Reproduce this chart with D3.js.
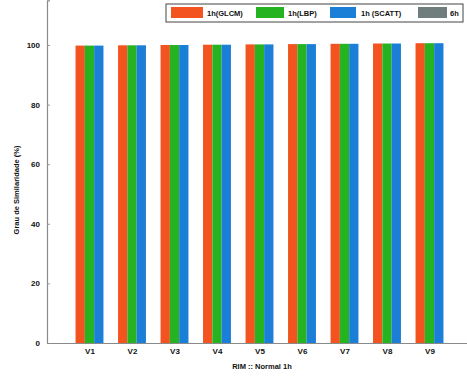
<!DOCTYPE html>
<html>
<head>
<meta charset="utf-8">
<script src="https://cdn.jsdelivr.net/npm/d3@7"></script>
<style>
  html, body { margin: 0; padding: 0; background: #fff; }
  svg { display: block; font-family: "Liberation Sans", Arial, sans-serif; }
</style>
</head>
<body>
<svg id="chart" width="467" height="379"></svg>
<script>
// Categories along the x axis
const categories = ["V1", "V2", "V3", "V4", "V5", "V6", "V7", "V8", "V9"];

// Similarity (%) per feature set
const glcm  = [99.8, 99.9, 100.0, 100.1, 100.2, 100.3, 100.4, 100.5, 100.6];
const lbp   = [99.8, 99.9, 100.0, 100.1, 100.2, 100.3, 100.4, 100.5, 100.6];
const scatt = [99.8, 99.9, 100.0, 100.1, 100.2, 100.3, 100.4, 100.5, 100.6];

const seriesNames = ["1h(GLCM)", "1h(LBP)", "1h (SCATT)", "6h"];
const seriesColors = ["#f2531f", "#25b321", "#1b7fd8", "#6f7d7d"];
const barSeries = [glcm, lbp, scatt];

const yTicks = [0, 20, 40, 60, 80, 100];

const svg = d3.select("#chart");
const left = 47, bottom = 343;

const x = d3.scaleLinear().domain([0, categories.length + 1]).range([left, 472]);
const y = d3.scaleLinear().domain([0, 115]).range([bottom, 0.3]);

const barW = 9.3;
const offsets = d3.scaleLinear().domain([0, barSeries.length - 1]).range([-barW, barW]);

// Bars
barSeries.forEach((vals, s) => {
  svg.append("g")
    .selectAll("rect")
    .data(vals)
    .join("rect")
    .attr("x", (d, i) => x(i + 1) + offsets(s) - barW / 2)
    .attr("y", d => y(d))
    .attr("width", barW)
    .attr("height", d => y(0) - y(d))
    .attr("fill", seriesColors[s]);
});

// Y axis
const yAxis = d3.axisLeft(y).tickValues(yTicks).tickSize(-3).tickPadding(7);
const gy = svg.append("g").attr("transform", `translate(${left},0)`).call(yAxis);
gy.select(".domain").attr("stroke", "#8a8a8a").attr("stroke-width", 1.2);
gy.selectAll(".tick line").attr("stroke", "#999");
gy.selectAll(".tick text").attr("font-size", 8).attr("font-weight", "bold").attr("fill", "#111");

// X axis
const xAxis = d3.axisBottom(x)
  .tickValues(d3.range(1, categories.length + 1))
  .tickFormat(d => categories[d - 1])
  .tickSize(0).tickPadding(5);
const gx = svg.append("g").attr("transform", `translate(0,${bottom})`).call(xAxis);
gx.select(".domain").attr("stroke", "#8a8a8a").attr("stroke-width", 1.2);
gx.selectAll(".tick text").attr("font-size", 8).attr("font-weight", "bold").attr("fill", "#111");

// Axis titles
svg.append("text")
  .attr("x", 262).attr("y", 369)
  .attr("text-anchor", "middle")
  .attr("font-size", 7.5).attr("font-weight", "bold").attr("fill", "#111")
  .text("RIM :: Normal 1h");

svg.append("text")
  .attr("transform", "translate(19,190) rotate(-90)")
  .attr("text-anchor", "middle")
  .attr("font-size", 7.5).attr("font-weight", "bold").attr("fill", "#111")
  .text("Grau de Similaridade (%)");

// Legend
const legend = svg.append("g");
legend.append("rect")
  .attr("x", 166).attr("y", 4).attr("width", 297).attr("height", 18)
  .attr("fill", "#fff").attr("stroke", "#444").attr("stroke-width", 1);

const legendItems = [
  { sx: 171, sw: 32, tx: 207 },
  { sx: 256, sw: 28, tx: 288 },
  { sx: 330, sw: 26, tx: 361 },
  { sx: 418, sw: 29, tx: 450 }
];
legendItems.forEach((it, i) => {
  legend.append("rect")
    .attr("x", it.sx).attr("y", 7).attr("width", it.sw).attr("height", 11)
    .attr("fill", seriesColors[i]);
  legend.append("text")
    .attr("x", it.tx).attr("y", 16)
    .attr("font-size", 7.5).attr("font-weight", "bold").attr("fill", "#111")
    .text(seriesNames[i]);
});
</script>
</body>
</html>
